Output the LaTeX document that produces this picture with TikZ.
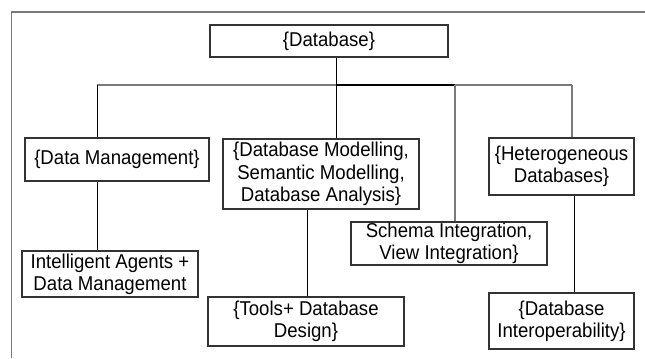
\documentclass[tikz,border=0pt]{standalone}
\usepackage{fontspec}
\setmainfont{Liberation Sans}[FakeStretch=0.93]
\usepackage{tikz}
\usetikzlibrary{calc}
\definecolor{linecolor}{HTML}{7A7A7A}
\definecolor{boxcolor}{HTML}{333333}
\tikzset{
  topic/.style={draw=boxcolor, line width=0.8pt, align=center, inner sep=0pt, font=\fontsize{15}{16.7}\selectfont},
  boxsize/.style 2 args={minimum width=#1*0.75pt, minimum height=#2*0.75pt}
}

\begin{document}
\begin{tikzpicture}[x=0.75pt,y=-0.75pt,line width=0.75pt]
   \useasboundingbox (0,0) rectangle (645,358);
   \draw [linecolor, line width=1.1pt] (11.5,358) -- (11.5,12) -- (645,12);
   \node [topic, boxsize={238}{32}] (db) at (329,41) {\{Database\}};
   \node [topic, boxsize={184}{43}] (dm) at (117,159.5) {\{Data Management\}};
   \node [topic, boxsize={196}{70}] (dbm) at (321,174) {\{Database Modelling,\\Semantic Modelling,\\Database Analysis\}};
   \node [topic, boxsize={145}{57}] (het) at (561.5,166.5) {\{Heterogeneous\\Databases\}};
   \node [topic, boxsize={176}{46}] (ia) at (110,274) {Intelligent Agents +\\Data Management};
   \node [topic, boxsize={196}{43}] (schema) at (449,243.5) {Schema Integration,\\View Integration\}};
   \node [topic, boxsize={196}{49}] (tools) at (306,321.5) {\{Tools+ Database\\Design\}};
   \node [topic, boxsize={145}{56}] (interop) at (561.5,321) {\{Database\\Interoperability\}};
   \coordinate (busL) at (97,85);
   \coordinate (busM) at (336,85);
   \coordinate (busS) at (455,85);
   \coordinate (busR) at (572,85);
   \coordinate (toolx) at (307,0);
   \coordinate (interx) at (574,0);
%%   \draw [red] (db.center) circle (2pt);
   \draw [linecolor, line width=1.1pt] (busL) -- (busR);
   \draw [black, line width=1.6pt] (busM) -- (busS);
   \draw [black] (db.south -| busM) -- (busM);
   \draw [black] (busL) -- (dm.north -| busL);
   \draw [black] (busM) -- (dbm.north -| busM);
   \draw [linecolor, line width=1.5pt] (busS) -- (schema.north -| busS);
   \draw [linecolor, line width=1.1pt] (busR) -- (het.north -| busR);
   \draw [black] (dm.south -| busL) -- (ia.north -| busL);
   \draw [black] (dbm.south -| toolx) -- (tools.north -| toolx);
   \draw [black] (het.south -| interx) -- (interop.north -| interx);
\end{tikzpicture}
\end{document}
